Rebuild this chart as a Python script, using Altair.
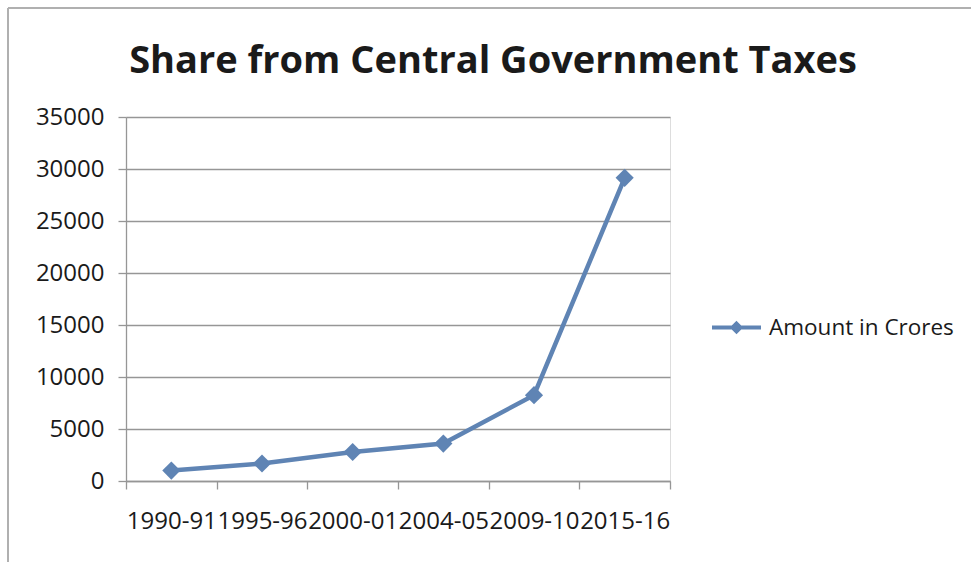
import altair as alt
import pandas as pd

# Fiscal years and the state's share from central government taxes (Rs. crore)
years = ["1990-91", "1995-96", "2000-01", "2004-05", "2009-10", "2015-16"]
amounts = [1000, 1680, 2790, 3600, 8250, 29150]
series_name = "Amount in Crores"
y_ticks = [0, 5000, 10000, 15000, 20000, 25000, 30000, 35000]

df = pd.DataFrame({"year": years, "amount": amounts, "series": series_name})

LINE = "#5f84b4"
GRID = "#969696"
FONT = "Open Sans"

base = alt.Chart(df)

line = base.mark_line(
    strokeWidth=4.5,
    point=alt.OverlayMarkDef(shape="diamond", size=330, filled=True, opacity=1),
).encode(
    x=alt.X(
        "year:N",
        sort=years,
        scale=alt.Scale(paddingInner=0, paddingOuter=0),
        axis=alt.Axis(
            title=None,
            labelAngle=0,
            tickBand="extent",
            tickSize=8,
            labelPadding=20,
            labelFont=FONT,
            labelFontSize=24,
            labelColor="#1a1a1a",
            domainColor=GRID,
            domainWidth=1.3,
            tickColor=GRID,
            tickWidth=1.3,
            labelOverlap=False,
            labelLimit=0,
            grid=False,
        ),
    ),
    y=alt.Y(
        "amount:Q",
        scale=alt.Scale(domain=[0, 35000], nice=False),
        axis=alt.Axis(
            title=None,
            values=y_ticks,
            format="d",
            tickSize=8,
            labelPadding=14,
            labelFont=FONT,
            labelFontSize=24,
            labelColor="#1a1a1a",
            domainColor=GRID,
            domainWidth=1.3,
            tickColor=GRID,
            tickWidth=1.3,
            gridColor=GRID,
            gridWidth=1.3,
        ),
    ),
    color=alt.Color(
        "series:N",
        scale=alt.Scale(range=[LINE]),
        legend=alt.Legend(
            title=None,
            orient="none",
            legendX=584,
            legendY=184,
            symbolType="M-1,0H1M0,-0.16L0.16,0L0,0.16L-0.16,0Z",
            symbolSize=2401,
            symbolStrokeWidth=4,
            symbolStrokeColor=LINE,
            symbolFillColor=LINE,
            labelFont=FONT,
            labelFontSize=22.5,
            labelColor="#1a1a1a",
            labelOffset=6,
            labelLimit=0,
        ),
    ),
)

# Outer chart frame along the top and left edges
frame_top = base.mark_rule(color="#b0b0b0", strokeWidth=2).encode(
    x=alt.value(-118), x2=alt.value(860), y=alt.value(-109)
)
frame_left = base.mark_rule(color="#b0b0b0", strokeWidth=2).encode(
    x=alt.value(-118), y=alt.value(-109), y2=alt.value(460)
)

chart = (
    alt.layer(frame_top, frame_left, line)
    .properties(
        width=544,
        height=364,
        title=alt.TitleParams(
            "Share from Central Government Taxes",
            font=FONT,
            fontSize=38,
            fontWeight="bold",
            color="#1a1a1a",
            anchor="middle",
            dx=95,
            dy=104,
            offset=30,
        ),
        autosize=alt.AutoSizeParams(type="none"),
        padding={"left": 126, "top": 117, "right": 301, "bottom": 81},
    )
    .configure_view(stroke=None)
    .configure(background="white")
)

chart.save("out.html", embed_options={"renderer": "svg", "actions": False})
